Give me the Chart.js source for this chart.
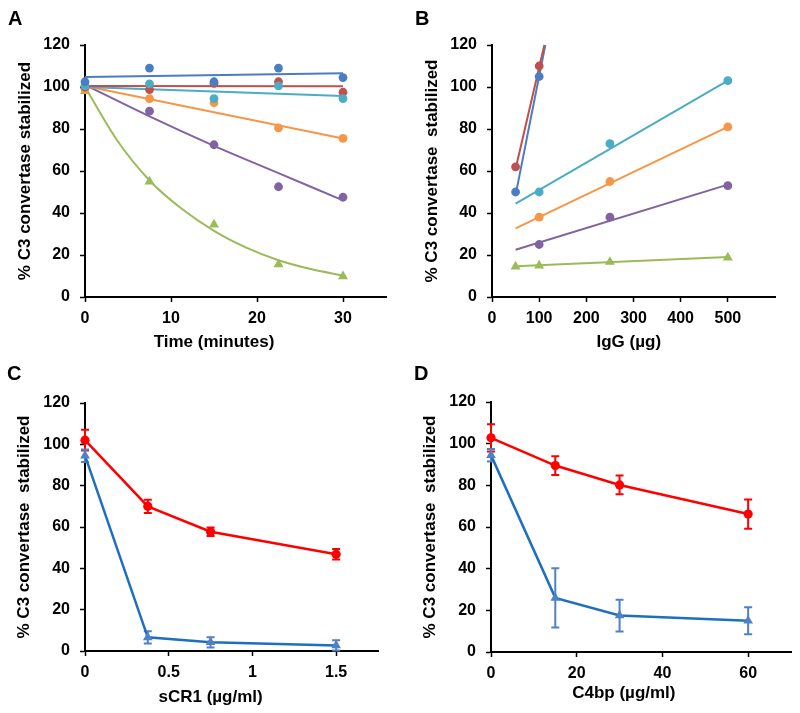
<!DOCTYPE html>
<html>
<head>
<meta charset="utf-8">
<script src="https://cdn.jsdelivr.net/npm/chart.js@4.4.1/dist/chart.umd.min.js"></script>
<style>
  body { margin: 0; background: #fff; }
  #wrap { position: relative; width: 800px; height: 713px; }
  canvas { position: absolute; }
</style>
</head>
<body>
<div id="wrap">
  <canvas id="chartA" width="400" height="356" style="left:0;top:0"></canvas>
  <canvas id="chartB" width="400" height="356" style="left:400px;top:0"></canvas>
  <canvas id="chartC" width="400" height="357" style="left:0;top:356px"></canvas>
  <canvas id="chartD" width="400" height="357" style="left:400px;top:356px"></canvas>
</div>
<script>
// ---- Panel A: decay over time ----
const timeMin = [0, 7.5, 15, 22.5, 30];
const aBlue = [102.5, 109, 102.5, 109, 104.5];
const aRed = [100, 98.8, 101.7, 102.5, 97.5];
const aAqua = [100.5, 101.5, 94.5, 100.5, 94.5];
const aOrange = [99, 94.5, 92.5, 80.5, 75.5];
const aPurple = [100, 88.5, 72.5, 52.5, 47.5];
const aGreen = [98, 55, 34.5, 15.5, 9.8];
// trend lines
const aFitX = [0, 30];
const aBlueFit = [104.8, 106.6];
const aRedFit = [100.5, 100.3];
const aAquaFit = [100, 95.7];
const aOrangeFit = [100.5, 75.5];
const aPurpleFitX = [0, 7.5, 15, 22.5, 30];
const aPurpleFit = [101, 86, 72, 59, 46];
const aGreenFitX = [0, 3.75, 7.5, 11.25, 15, 18.75, 22.5, 26.25, 30];
const aGreenFit = [100, 74.5, 55.5, 42, 31.5, 23.5, 17.5, 13.3, 10.2];

// ---- Panel B: IgG dose ----
const iggAll = [50, 100, 250, 500];
const iggLow = [50, 100];
const iggHigh = [100, 250, 500];
const bRed = [62, 110];
const bBlue = [50, 105];
const bAqua = [50, 73, 103];
const bOrange = [38, 55, 81];
const bPurple = [25, 38, 53];
const bGreen = [14.5, 15, 16.7, 18.8];
const bRedFitX = [50, 111];
const bRedFit = [61, 120];
const bBlueFitX = [50, 113];
const bBlueFit = [48.5, 120];
const bFitX = [50, 500];
const bAquaFit = [44.5, 103];
const bOrangeFit = [32.7, 81];
const bPurpleFit = [22.5, 53.5];
const bGreenFit = [14.6, 19];

// ---- Panel C: sCR1 ----
const scr1 = [0, 0.375, 0.75, 1.5];
const cRed = [102, 70, 57.7, 46.8];
const cRedErr = [5, 3.2, 2, 2.5];
const cBlue = [94.5, 6.6, 4.2, 2.7];
const cBlueErr = [3, 3, 2.5, 2.5];

// ---- Panel D: C4bp ----
const c4bp = [0, 15, 30, 60];
const dRed = [102.8, 89.5, 80.2, 66.2];
const dRedErr = [6.5, 4.5, 4.5, 7];
const dBlue = [94.5, 26, 17.5, 15];
const dBlueErr = [3, 14.2, 7.6, 6.5];

const yTicks = [0, 20, 40, 60, 80, 100, 120];

Chart.defaults.font.family = "'Liberation Sans', Arial, sans-serif";
Chart.defaults.font.weight = 'bold';
Chart.defaults.font.size = 16;
Chart.defaults.color = '#000';
Chart.defaults.animation = false;
Chart.defaults.plugins.legend.display = false;
Chart.defaults.plugins.tooltip.enabled = false;

const BLUE = '#4A7DC4', RED = '#C0504D', AQUA = '#4BACC6',
      ORANGE = '#F79646', PURPLE = '#8064A2', GREEN = '#9BBB59';

const pts = (xs, ys) => xs.map((x, i) => ({ x: x, y: ys[i] }));

function dots(xs, ys, color, style, r) {
    return {
        data: pts(xs, ys), showLine: false, clip: false,
        pointStyle: style || 'circle', pointRadius: r || 4.4,
        backgroundColor: color, borderColor: color, borderWidth: 0
    };
}

function fit(xs, ys, color, smooth) {
    return {
        data: pts(xs, ys), showLine: true, clip: false, pointRadius: 0,
        borderColor: color, borderWidth: 2,
        cubicInterpolationMode: smooth ? 'monotone' : 'default'
    };
}

function series(xs, ys, errs, lineColor, markColor, style, r) {
    return {
        data: pts(xs, ys), showLine: true, clip: false, errors: errs,
        borderColor: lineColor, borderWidth: 2.5,
        pointStyle: style, pointRadius: r,
        pointBackgroundColor: markColor, pointBorderColor: markColor, pointBorderWidth: 0
    };
}

// error bars with caps
const errorBars = {
    id: 'errorBars',
    beforeDatasetsDraw(chart) {
        const { ctx } = chart;
        const x = chart.scales.x, y = chart.scales.y;
        chart.data.datasets.forEach(ds => {
            if (!ds.errors) return;
            ctx.save();
            ctx.strokeStyle = ds.pointBackgroundColor;
            ctx.lineWidth = 2;
            ds.data.forEach((p, j) => {
                const e = ds.errors[j];
                const px = x.getPixelForValue(p.x);
                const top = y.getPixelForValue(p.y + e);
                const bot = y.getPixelForValue(p.y - e);
                ctx.beginPath();
                ctx.moveTo(px, top); ctx.lineTo(px, bot);
                ctx.moveTo(px - 4, top); ctx.lineTo(px + 4, top);
                ctx.moveTo(px - 4, bot); ctx.lineTo(px + 4, bot);
                ctx.stroke();
            });
            ctx.restore();
        });
    }
};

// panel letter + x title (centred over the data range, like the original)
const panelText = {
    id: 'panelText',
    afterDraw(chart, args, opts) {
        const ctx = chart.ctx;
        const xs = chart.scales.x;
        ctx.save();
        ctx.fillStyle = '#000';
        ctx.font = "bold 20px 'Liberation Sans', Arial, sans-serif";
        ctx.textBaseline = 'alphabetic';
        ctx.fillText(opts.letter, opts.lx, opts.ly);
        ctx.font = "bold 17px 'Liberation Sans', Arial, sans-serif";
        ctx.textAlign = 'center';
        ctx.textBaseline = 'middle';
        ctx.fillText(opts.xTitle, xs.getPixelForValue(opts.xTitleAt), opts.xTitleY);
        ctx.restore();
    }
};

function scales(p) {
    const border = { display: true, color: '#000', width: 2 };
    const grid = { display: true, drawOnChartArea: false, tickLength: 5, tickWidth: 1.5, tickColor: '#000' };
    return {
        x: {
            type: 'linear', min: 0, max: p.xMax,
            border: border,
            grid: Object.assign({}, grid, {
                tickColor: ctx => (p.hideX !== undefined && ctx.tick && ctx.tick.value === p.hideX) ? 'rgba(0,0,0,0)' : '#000'
            }),
            ticks: {
                stepSize: p.xStep, includeBounds: false, padding: 7, maxRotation: 0,
                callback: v => (v === p.hideX ? '' : String(v))
            },
            afterFit: s => { s.height = p.xH; }
        },
        y: {
            type: 'linear', min: 0, max: 120,
            border: border,
            grid: grid,
            afterBuildTicks: s => { s.ticks = yTicks.map(v => ({ value: v })); },
            ticks: { padding: 10 },
            title: { display: true, text: p.yTitle, font: { size: 17, weight: 'bold' }, padding: { top: p.yTitlePad, bottom: 0 } },
            afterFit: s => { s.width = p.yW; }
        }
    };
}

function makeChart(id, datasets, pad, sc, text) {
    return new Chart(document.getElementById(id), {
        type: 'scatter',
        data: { datasets: datasets },
        options: {
            responsive: false,
            layout: { padding: pad },
            scales: sc,
            plugins: { panelText: text }
        },
        plugins: [errorBars, panelText]
    });
}

makeChart('chartA', [
    dots(timeMin, aBlue, BLUE),
    dots(timeMin, aAqua, AQUA),
    dots(timeMin, aRed, RED),
    dots(timeMin, aOrange, ORANGE),
    dots(timeMin, aPurple, PURPLE),
    dots(timeMin, aGreen, GREEN, 'triangle', 5.8),
    fit(aFitX, aBlueFit, BLUE),
    fit(aFitX, aRedFit, RED),
    fit(aFitX, aAquaFit, AQUA),
    fit(aFitX, aOrangeFit, ORANGE),
    fit(aPurpleFitX, aPurpleFit, PURPLE, true),
    fit(aGreenFitX, aGreenFit, GREEN, true)
], { left: 0, right: 14, top: 45, bottom: 0 },
scales({ xMax: 35, xStep: 10, yTitle: '% C3 convertase stabilized', xH: 59, yW: 85, yTitlePad: 15 }),
{ letter: 'A', lx: 8, ly: 25, xTitle: 'Time (minutes)', xTitleAt: 15, xTitleY: 342 });

makeChart('chartB', [
    dots(iggLow, bRed, RED),
    dots(iggLow, bBlue, BLUE),
    dots(iggHigh, bAqua, AQUA),
    dots(iggHigh, bOrange, ORANGE),
    dots(iggHigh, bPurple, PURPLE),
    dots(iggAll, bGreen, GREEN, 'triangle', 5.8),
    fit(bRedFitX, bRedFit, RED),
    fit(bBlueFitX, bBlueFit, BLUE),
    fit(bFitX, bAquaFit, AQUA),
    fit(bFitX, bOrangeFit, ORANGE),
    fit(bFitX, bPurpleFit, PURPLE),
    fit(bFitX, bGreenFit, GREEN)
], { left: 0, right: 25, top: 45, bottom: 0 },
scales({ xMax: 600, xStep: 100, hideX: 600, yTitle: '% C3 convertase  stabilized', xH: 59, yW: 92, yTitlePad: 22 }),
{ letter: 'B', lx: 15, ly: 25, xTitle: 'IgG (\u00b5g)', xTitleAt: 290, xTitleY: 342 });

makeChart('chartC', [
    series(scr1, cRed, cRedErr, '#FF0000', '#FF0000', 'circle', 4.6),
    series(scr1, cBlue, cBlueErr, '#1F6FC0', '#4F81C4', 'triangle', 5.6)
], { left: 0, right: 22, top: 47, bottom: 0 },
scales({ xMax: 1.75, xStep: 0.5, yTitle: '% C3 convertase  stabilized', xH: 62, yW: 85, yTitlePad: 14 }),
{ letter: 'C', lx: 7, ly: 24, xTitle: 'sCR1 (\u00b5g/ml)', xTitleAt: 0.75, xTitleY: 341 });

makeChart('chartD', [
    series(c4bp, dRed, dRedErr, '#FF0000', '#FF0000', 'circle', 4.6),
    series(c4bp, dBlue, dBlueErr, '#1F6FC0', '#4F81C4', 'triangle', 5.6)
], { left: 0, right: 9, top: 46, bottom: 0 },
scales({ xMax: 70, xStep: 20, yTitle: '% C3 convertase  stabilized', xH: 61, yW: 91, yTitlePad: 20 }),
{ letter: 'D', lx: 14, ly: 24, xTitle: 'C4bp (\u00b5g/ml)', xTitleAt: 31, xTitleY: 337 });
</script>
</body>
</html>
